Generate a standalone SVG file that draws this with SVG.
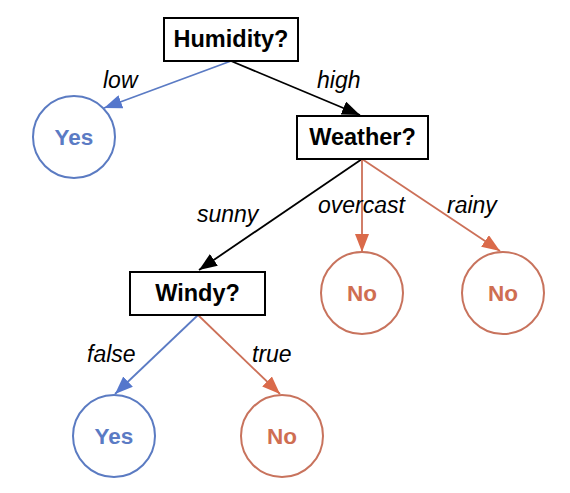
<svg xmlns="http://www.w3.org/2000/svg" width="570" height="493" viewBox="0 0 570 493">
<style>
.box{fill:#fff;stroke:#000;stroke-width:2}
.bt{font-family:"Liberation Sans",Arial,sans-serif;font-weight:bold;font-size:23.5px;text-anchor:middle;fill:#000}
.yes{fill:#fff;stroke:#5b7bc2;stroke-width:2}
.no{fill:#fff;stroke:#c8735d;stroke-width:2}
.yt{font-family:"Liberation Sans",Arial,sans-serif;font-weight:bold;font-size:22.5px;text-anchor:middle;fill:#5b7bc4}
.nt{font-family:"Liberation Sans",Arial,sans-serif;font-weight:bold;font-size:22.5px;text-anchor:middle;fill:#cf6e52}
.lab{font-family:"Liberation Sans",Arial,sans-serif;font-style:italic;font-size:23px;fill:#000}
.eb{stroke:#000;stroke-width:1.8;fill:none}
.eu{stroke:#5b7bc4;stroke-width:1.8;fill:none}
.eo{stroke:#cc7058;stroke-width:1.8;fill:none}
</style>
<defs>
<marker id="ab" markerUnits="userSpaceOnUse" markerWidth="18" markerHeight="14" refX="18" refY="7" orient="auto"><path d="M0,0 L18,7 L0,14 z" fill="#000"/></marker>
<marker id="au" markerUnits="userSpaceOnUse" markerWidth="18" markerHeight="14" refX="18" refY="7" orient="auto"><path d="M0,0 L18,7 L0,14 z" fill="#5577cc"/></marker>
<marker id="ao" markerUnits="userSpaceOnUse" markerWidth="18" markerHeight="14" refX="18" refY="7" orient="auto"><path d="M0,0 L18,7 L0,14 z" fill="#da6a4a"/></marker>
</defs>
<g id="connectors">
<line class="eu" x1="231" y1="61" x2="104" y2="108" marker-end="url(#au)"/>
<line class="eb" x1="231" y1="61" x2="360" y2="115" marker-end="url(#ab)"/>
<line class="eb" x1="362" y1="159" x2="199" y2="270" marker-end="url(#ab)"/>
<line class="eo" x1="362" y1="159" x2="362" y2="252" marker-end="url(#ao)"/>
<line class="eo" x1="362" y1="159" x2="500" y2="251" marker-end="url(#ao)"/>
<line class="eu" x1="198" y1="315" x2="115" y2="394" marker-end="url(#au)"/>
<line class="eo" x1="198" y1="315" x2="280" y2="394" marker-end="url(#ao)"/>
<text class="lab" x="103" y="88">low</text>
<text class="lab" x="317" y="88">high</text>
<text class="lab" x="197" y="222">sunny</text>
<text class="lab" x="318" y="213">overcast</text>
<text class="lab" x="447" y="213">rainy</text>
<text class="lab" x="87" y="362">false</text>
<text class="lab" x="252" y="362">true</text>
</g>
<g id="humidity"><rect class="box" x="164" y="18" width="134" height="43"/><text class="bt" x="231" y="47">Humidity?</text></g>
<g id="yes1"><circle class="yes" cx="74" cy="137" r="41"/><text class="yt" x="74" y="145">Yes</text></g>
<g id="weather"><rect class="box" x="297" y="116" width="131" height="43"/><text class="bt" x="362.5" y="145">Weather?</text></g>
<g id="windy"><rect class="box" x="130" y="272" width="135" height="43"/><text class="bt" x="197.5" y="301">Windy?</text></g>
<g id="no1"><circle class="no" cx="362" cy="293" r="41"/><text class="nt" x="362" y="301">No</text></g>
<g id="no2"><circle class="no" cx="503" cy="293" r="41"/><text class="nt" x="503" y="301">No</text></g>
<g id="yes2"><circle class="yes" cx="114" cy="436" r="41"/><text class="yt" x="114" y="444">Yes</text></g>
<g id="no3"><circle class="no" cx="282" cy="436" r="41"/><text class="nt" x="282" y="444">No</text></g>
</svg>
